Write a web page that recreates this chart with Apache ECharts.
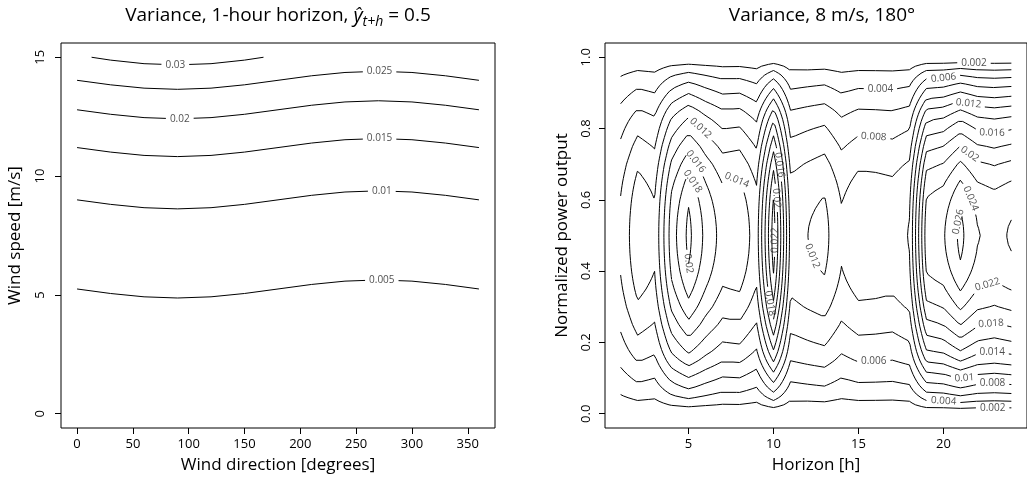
<!DOCTYPE html>
<html><head><meta charset="utf-8">
<script src="https://cdn.jsdelivr.net/npm/echarts@6/dist/echarts.min.js"></script>
<style>html,body{margin:0;padding:0;background:#fff}#c{width:1027px;height:481px}</style>
</head><body><div id="c"></div>
<script>
// ---------------- Left panel data (contours) ----------------
const windDir = [0, 30, 60, 90, 120, 150, 180, 210, 240, 270, 300, 330, 360];
const ws_005 = [5.25, 5.06, 4.92, 4.87, 4.92, 5.06, 5.25, 5.44, 5.58, 5.63, 5.58, 5.44, 5.25];
const ws_010 = [9.0, 8.81, 8.67, 8.62, 8.67, 8.81, 9.0, 9.19, 9.33, 9.38, 9.33, 9.19, 9.0];
const ws_015 = [11.2, 11.01, 10.87, 10.82, 10.87, 11.01, 11.2, 11.39, 11.53, 11.58, 11.53, 11.39, 11.2];
const ws_020 = [12.79, 12.6, 12.46, 12.41, 12.46, 12.6, 12.79, 12.98, 13.12, 13.17, 13.12, 12.98, 12.79];
const ws_025 = [14.03, 13.84, 13.7, 13.65, 13.7, 13.84, 14.03, 14.22, 14.36, 14.41, 14.36, 14.22, 14.03];
const windDir_030 = [13, 30, 60, 90, 120, 150, 167];
const ws_030 = [15.0, 14.88, 14.73, 14.68, 14.73, 14.88, 15.0];
const leftLabels = [['0.03', 88, 14.68], ['0.025', 271, 14.41], ['0.02', 92, 12.41], ['0.015', 271, 11.58], ['0.01', 273, 9.38], ['0.005', 273, 5.63]];
const leftXTicks = [0, 50, 100, 150, 200, 250, 300, 350];
const leftYTicks = [0, 5, 10, 15];

// ---------------- Right panel data ----------------
const horizons = [1, 2, 3, 4, 5, 6, 7, 8, 9, 10, 11, 12, 13, 14, 15, 16, 17, 18, 19, 20, 21, 22, 23, 24];
// peak variance (at normalized power 0.5) for each horizon
const peakVar = [0.0084, 0.0115, 0.0104, 0.017, 0.0205, 0.0175, 0.0152, 0.0155, 0.013, 0.023, 0.0113, 0.01199,
                 0.0126, 0.0103, 0.0115, 0.0114, 0.0112, 0.0121, 0.023, 0.0238, 0.0265, 0.0241, 0.0235, 0.0242];
// relative variance profile across normalized power (symmetric about 0.5)
const profileY = [0, 0.025, 0.05, 0.075, 0.1, 0.125, 0.15, 0.175, 0.2, 0.225, 0.25, 0.275, 0.3, 0.325, 0.35, 0.375, 0.4, 0.425, 0.45, 0.475, 0.5];
const profileShape = [0, 0.125, 0.225, 0.31, 0.385, 0.46, 0.535, 0.6, 0.655, 0.705, 0.757, 0.8, 0.845, 0.88, 0.913, 0.94, 0.962, 0.978, 0.99, 0.997, 1];
const rightLevels = [0.002, 0.004, 0.006, 0.008, 0.01, 0.012, 0.014, 0.016, 0.018, 0.02, 0.022, 0.024, 0.026];
const rightLabels = [
  ['0.002', 21.8, 0.985], ['0.004', 16.3, 0.916], ['0.006', 20.0, 0.944], ['0.008', 15.9, 0.777],
  ['0.012', 21.4, 0.858], ['0.016', 22.9, 0.798], ['0.02', 21.5, 0.726], ['0.024', 21.4, 0.599], ['0.026', 21.0, 0.538],
  ['0.012', 5.5, 0.791], ['0.016', 5.5, 0.710], ['0.018', 5.4, 0.655], ['0.014', 7.7, 0.679],
  ['0.016', 10.2, 0.697], ['0.02', 10.0, 0.604], ['0.022', 10.0, 0.487],
  ['0.02', 5.4, 0.407], ['0.018', 9.7, 0.309], ['0.012', 12.4, 0.445], ['0.006', 15.9, 0.143],
  ['0.022', 22.9, 0.330], ['0.018', 22.9, 0.233], ['0.014', 22.9, 0.162], ['0.01', 21.2, 0.106],
  ['0.008', 22.9, 0.080], ['0.004', 20.0, 0.028], ['0.002', 22.9, 0.0093]
];
const rightXTicks = [5, 10, 15, 20];
const rightYTicks = [0, 0.2, 0.4, 0.6, 0.8, 1.0];

// ---------------- helpers ----------------
const FONT = '"Open Sans", "Noto Sans", sans-serif';
function interp1(xa, ya, x) {
  for (let k = 0; k < xa.length - 1; k++) {
    if (x <= xa[k + 1]) { const t = (x - xa[k]) / (xa[k + 1] - xa[k]); return ya[k] + t * (ya[k + 1] - ya[k]); }
  }
  return ya[ya.length - 1];
}
function marching(xs, ys, Z, L) {
  const cache = {};
  function edgePt(key) {
    if (cache[key]) return cache[key];
    const p = key.split(','); const i = +p[1], j = +p[2];
    let i2 = i, j2 = j; if (p[0] === 'h') i2 = i + 1; else j2 = j + 1;
    const z1 = Z[i][j], z2 = Z[i2][j2]; const t = (L - z1) / (z2 - z1);
    const pt = [xs[i] + (xs[i2] - xs[i]) * t, ys[j] + (ys[j2] - ys[j]) * t];
    cache[key] = pt; return pt;
  }
  const segs = [];
  for (let i = 0; i < xs.length - 1; i++) for (let j = 0; j < ys.length - 1; j++) {
    const za = Z[i][j], zb = Z[i + 1][j], zc = Z[i + 1][j + 1], zd = Z[i][j + 1];
    const c = (za >= L ? 1 : 0) | (zb >= L ? 2 : 0) | (zc >= L ? 4 : 0) | (zd >= L ? 8 : 0);
    if (c === 0 || c === 15) continue;
    const E = ['h,' + i + ',' + j, 'v,' + (i + 1) + ',' + j, 'h,' + i + ',' + (j + 1), 'v,' + i + ',' + j];
    const m = (za + zb + zc + zd) / 4;
    const T = {1: [[3, 0]], 2: [[0, 1]], 3: [[3, 1]], 4: [[1, 2]], 6: [[0, 2]], 7: [[3, 2]], 8: [[2, 3]], 9: [[0, 2]],
      11: [[1, 2]], 12: [[1, 3]], 13: [[0, 1]], 14: [[0, 3]],
      5: m >= L ? [[0, 1], [2, 3]] : [[3, 0], [1, 2]], 10: m >= L ? [[3, 0], [1, 2]] : [[0, 1], [2, 3]]};
    T[c].forEach(p => segs.push([E[p[0]], E[p[1]]]));
  }
  const adj = {};
  segs.forEach((s, k) => { (adj[s[0]] = adj[s[0]] || []).push(k); (adj[s[1]] = adj[s[1]] || []).push(k); });
  const used = new Array(segs.length).fill(false);
  const lines = [];
  function walk(startKey, k) {
    const keys = [startKey]; let cur = startKey;
    while (k !== undefined && !used[k]) {
      used[k] = true; const s = segs[k]; const nxt = s[0] === cur ? s[1] : s[0];
      keys.push(nxt); cur = nxt;
      k = adj[cur].filter(q => !used[q])[0];
    }
    return keys.map(edgePt);
  }
  for (const key in adj) if (adj[key].length === 1 && !used[adj[key][0]]) lines.push(walk(key, adj[key][0]));
  segs.forEach((s, k) => { if (!used[k]) lines.push(walk(s[0], k)); });
  return lines;
}
const mctx = document.createElement('canvas').getContext('2d');
function textW(t, size) { mctx.font = size + 'px ' + FONT; return mctx.measureText(t).width; }

function placeLabels(chart, gridIndex, byLevel, labels, size) {
  const toPx = p => chart.convertToPixel({gridIndex: gridIndex}, p);
  const out = [];
  labels.forEach(([lev, x, y]) => {
    const pieces = byLevel[lev]; if (!pieces || !pieces.length) return;
    const A = toPx([x, y]); let best = null;
    pieces.forEach((pl, pi) => {
      const P = pl.map(toPx);
      for (let k = 0; k < P.length - 1; k++) {
        const dx = P[k + 1][0] - P[k][0], dy = P[k + 1][1] - P[k][1]; const L2 = dx * dx + dy * dy;
        let t = L2 > 0 ? ((A[0] - P[k][0]) * dx + (A[1] - P[k][1]) * dy) / L2 : 0; t = Math.max(0, Math.min(1, t));
        const d = (P[k][0] + t * dx - A[0]) ** 2 + (P[k][1] + t * dy - A[1]) ** 2;
        if (!best || d < best.d) best = {d, pi, k, t, P};
      }
    });
    if (!best) return;
    const pl = pieces[best.pi], P = best.P;
    const cum = [0]; for (let k = 1; k < P.length; k++) cum.push(cum[k - 1] + Math.hypot(P[k][0] - P[k - 1][0], P[k][1] - P[k - 1][1]));
    const sc = cum[best.k] + best.t * (cum[best.k + 1] - cum[best.k]);
    const hw = textW(lev, size) / 2 + 4; const total = cum[cum.length - 1];
    const at = s => {
      let k = 0; while (k < cum.length - 2 && cum[k + 1] < s) k++;
      const seg = cum[k + 1] - cum[k]; const t = seg > 0 ? (s - cum[k]) / seg : 0;
      return {k, d: [pl[k][0] + t * (pl[k + 1][0] - pl[k][0]), pl[k][1] + t * (pl[k + 1][1] - pl[k][1])],
              p: [P[k][0] + t * (P[k + 1][0] - P[k][0]), P[k][1] + t * (P[k + 1][1] - P[k][1])]};
    };
    const a = at(Math.max(0, sc - hw)), b = at(Math.min(total, sc + hw)), c = at(sc);
    const p1 = pl.slice(0, a.k + 1).concat([a.d]);
    const p2 = [b.d].concat(pl.slice(b.k + 1));
    pieces.splice(best.pi, 1);
    if (p1.length > 1) pieces.push(p1);
    if (p2.length > 1) pieces.push(p2);
    let ang = Math.atan2(-(b.p[1] - a.p[1]), b.p[0] - a.p[0]) * 180 / Math.PI;
    if (ang > 90) ang -= 180; if (ang <= -90) ang += 180;
    out.push({value: c.d, label: {show: true, formatter: lev, rotate: Math.abs(ang) < 2 ? 0 : ang}});
  });
  return out;
}

// ---------------- chart ----------------
const chart = echarts.init(document.getElementById('c'), null, {renderer: 'canvas'});
function axisCommon(ticks, fmt, rotate, margin) {
  return {
    type: 'value', axisLine: {show: false, onZero: false}, splitLine: {show: false},
    axisTick: {show: true, customValues: ticks, length: 6, inside: false, lineStyle: {color: '#000', width: 1}},
    axisLabel: {customValues: ticks, formatter: fmt, rotate: rotate, margin: margin, fontSize: 13, color: '#000', fontFamily: FONT},
    nameLocation: 'middle', nameTextStyle: {fontSize: 17, color: '#000', fontFamily: FONT}
  };
}
const base = {
  animation: false,
  backgroundColor: '#fff',
  grid: [
    {left: 61, top: 43, width: 434, height: 385, show: true, borderColor: '#000', borderWidth: 1, backgroundColor: 'transparent'},
    {left: 605, top: 43, width: 434, height: 385, show: true, borderColor: '#000', borderWidth: 1, backgroundColor: 'transparent'}
  ],
  xAxis: [
    Object.assign(axisCommon(leftXTicks, v => String(v), 0, 10), {gridIndex: 0, position: 'bottom', min: -14.4, max: 374.4, name: 'Wind direction [degrees]', nameGap: 29}),
    Object.assign(axisCommon(rightXTicks, v => String(v), 0, 10), {gridIndex: 1, position: 'bottom', min: 0.08, max: 24.92, name: 'Horizon [h]', nameGap: 29})
  ],
  yAxis: [
    Object.assign(axisCommon(leftYTicks, v => String(v), 90, 14), {gridIndex: 0, position: 'left', min: -0.6, max: 15.6, name: 'Wind speed [m/s]', nameGap: 37}),
    Object.assign(axisCommon(rightYTicks, v => v.toFixed(1), 90, 12), {gridIndex: 1, position: 'left', min: -0.04, max: 1.04, name: 'Normalized power output', nameGap: 34})
  ],
  graphic: [
    {type: 'text', x: 278, y: 16, style: {
      text: '{a|Variance, 1-hour horizon, }{i|ŷ}{s|t+h}{a| = 0.5}', align: 'center', verticalAlign: 'middle',
      rich: {a: {fontSize: 19, fontFamily: FONT, fill: '#000', lineHeight: 26, verticalAlign: 'middle'},
             i: {fontSize: 20, fontFamily: FONT, fontStyle: 'italic', fill: '#000', lineHeight: 26, verticalAlign: 'middle'},
             s: {fontSize: 14, fontFamily: FONT, fontStyle: 'italic', fill: '#000', lineHeight: 14, verticalAlign: 'bottom'}}
    }},
    {type: 'text', x: 822, y: 16, style: {text: 'Variance, 8 m/s, 180°', align: 'center', verticalAlign: 'middle',
      fontSize: 19, fontFamily: FONT, fill: '#000'}}
  ],
  series: []
};
chart.setOption(base);

const leftByLevel = {
  '0.005': [windDir.map((d, k) => [d, ws_005[k]])],
  '0.01': [windDir.map((d, k) => [d, ws_010[k]])],
  '0.015': [windDir.map((d, k) => [d, ws_015[k]])],
  '0.02': [windDir.map((d, k) => [d, ws_020[k]])],
  '0.025': [windDir.map((d, k) => [d, ws_025[k]])],
  '0.03': [windDir_030.map((d, k) => [d, ws_030[k]])]
};

const fineY = []; for (let j = 0; j <= 200; j++) fineY.push(j / 200);
const Z = horizons.map((h, i) => fineY.map(y => peakVar[i] * interp1(profileY, profileShape, y <= 0.5 ? y : 1 - y)));
const rightByLevel = {};
rightLevels.forEach(L => { rightByLevel[String(L)] = marching(horizons, fineY, Z, L); });

const leftLab = placeLabels(chart, 0, leftByLevel, leftLabels, 10);
const rightLab = placeLabels(chart, 1, rightByLevel, rightLabels, 10);

const series = [];
function addLines(byLevel, gi) {
  Object.keys(byLevel).forEach(k => byLevel[k].forEach(pl => series.push({
    type: 'line', xAxisIndex: gi, yAxisIndex: gi, data: pl, showSymbol: false, symbol: 'none', silent: true,
    lineStyle: {color: '#000', width: 1}, clip: true, z: 2
  })));
}
addLines(leftByLevel, 0);
addLines(rightByLevel, 1);
[[leftLab, 0], [rightLab, 1]].forEach(([lab, gi]) => series.push({
  type: 'scatter', xAxisIndex: gi, yAxisIndex: gi, data: lab, symbol: 'rect', symbolSize: 1, silent: true, z: 5,
  itemStyle: {color: 'rgba(0,0,0,0)'},
  label: {show: true, position: 'inside', fontSize: 10, color: '#222', fontFamily: FONT}
}));
chart.setOption({series: series});
</script>
</body></html>
